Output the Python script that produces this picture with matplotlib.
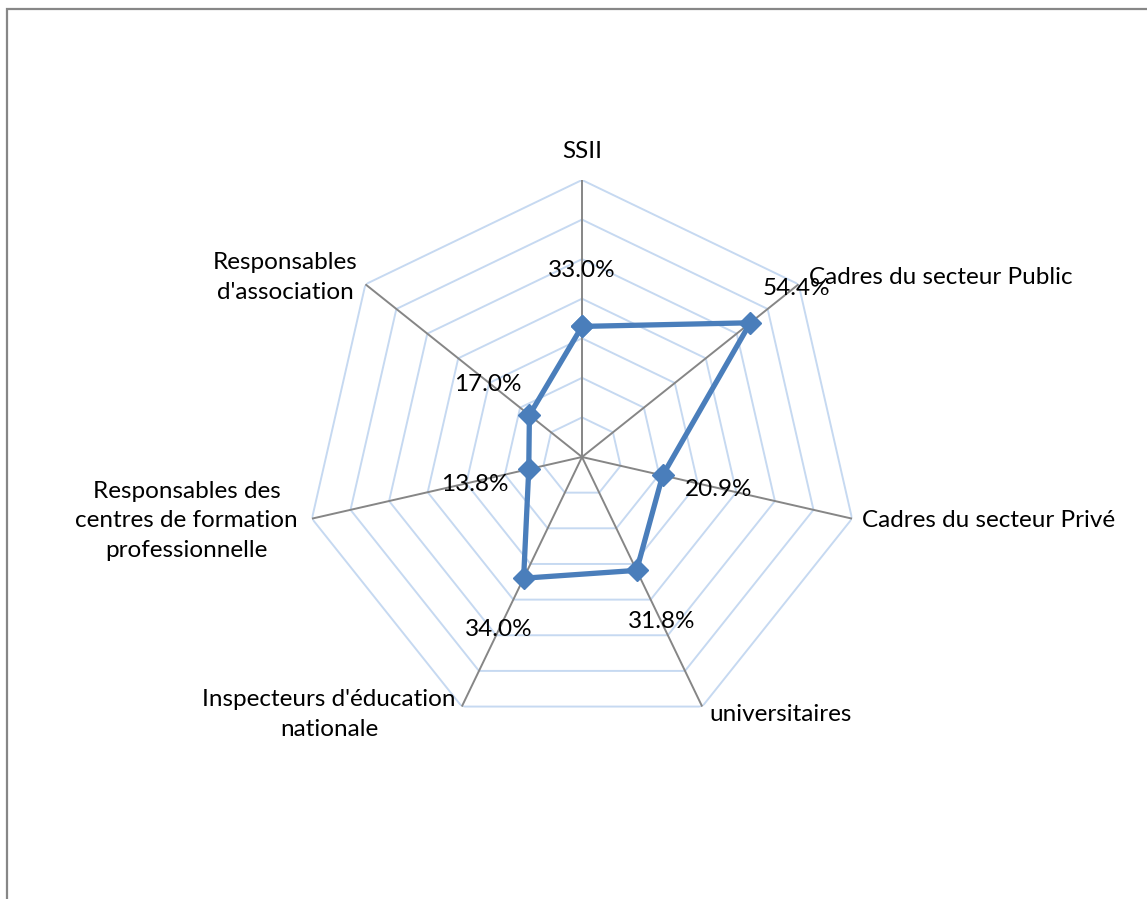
import numpy as np
import matplotlib
matplotlib.use("Agg")
import matplotlib.pyplot as plt
from matplotlib.patches import Rectangle

categories = ["SSII", "Cadres du secteur Public", "Cadres du secteur Privé",
              "universitaires", "Inspecteurs d'éducation\nnationale",
              "Responsables des\ncentres de formation\nprofessionnelle",
              "Responsables\nd'association"]
values = [0.330, 0.544, 0.209, 0.318, 0.340, 0.138, 0.170]
value_labels = ["33.0%", "54.4%", "20.9%", "31.8%", "34.0%", "13.8%", "17.0%"]
ring_levels = [0.1, 0.2, 0.3, 0.4, 0.5, 0.6, 0.7]

plt.rcParams['font.family'] = ['Lato', 'DejaVu Sans']
DPI = 100
W, H = 1147, 899
fig = plt.figure(figsize=(W / DPI, H / DPI), dpi=DPI)

# outer frame
fig.patches.append(Rectangle((7.5 / W, -0.1), 1.2, (H - 8.5) / H + 0.1,
                             transform=fig.transFigure, fill=False,
                             edgecolor='#878787', linewidth=1.6))

cx, cy, R = 582, 457, 277
ax = fig.add_axes([(cx - R) / W, (H - cy - R) / H, 2 * R / W, 2 * R / H],
                  projection='polar')
ax.set_theta_offset(np.pi / 2)
ax.set_theta_direction(-1)
rmax = ring_levels[-1]
ax.set_ylim(0, rmax)
ax.grid(False)
ax.spines['polar'].set_visible(False)
ax.set_xticks([])
ax.set_yticks([])
ax.patch.set_alpha(0)

n = len(categories)
theta = np.arange(n) * 2 * np.pi / n
theta_c = np.append(theta, theta[0])

for lv in ring_levels:
    ax.plot(theta_c, [lv] * (n + 1), color='#C6D9F1', lw=1.4, zorder=1)
for t in theta:
    ax.plot([t, t], [0, rmax], color='#868686', lw=1.4, zorder=2)

vals_c = values + values[:1]
ax.plot(theta_c, vals_c, color='#4A7EBB', lw=3.8, zorder=3,
        marker='D', markersize=11, markerfacecolor='#4A7EBB',
        markeredgecolor='#4A7EBB', solid_joinstyle='miter')

FS = 17.5
px2pt = 72 / DPI
lab_off = [(0, 56), (46, 34), (56, -14), (25, -51), (-25, -51), (-54, -15), (-42, 31)]
for t, v, s, (dx, dy) in zip(theta, values, value_labels, lab_off):
    ax.annotate(s, xy=(t, v), xytext=(dx * px2pt, dy * px2pt),
                textcoords='offset points', ha='center', va='center',
                fontsize=FS, color='black', zorder=5)

cat_off = [(0, 28), (10, 7), (10, -2), (7, -8), (-6, -8), (-14, -2), (-8, 7)]
cat_ha = ['center', 'left', 'left', 'left', 'right', 'right', 'right']
for t, c, (dx, dy), ha in zip(theta, categories, cat_off, cat_ha):
    ax.annotate(c, xy=(t, rmax), xytext=(dx * px2pt, dy * px2pt),
                textcoords='offset points', ha=ha, va='center',
                multialignment='center', fontsize=FS, color='black',
                linespacing=1.5, annotation_clip=False)

fig.savefig('out.png', dpi=DPI)
